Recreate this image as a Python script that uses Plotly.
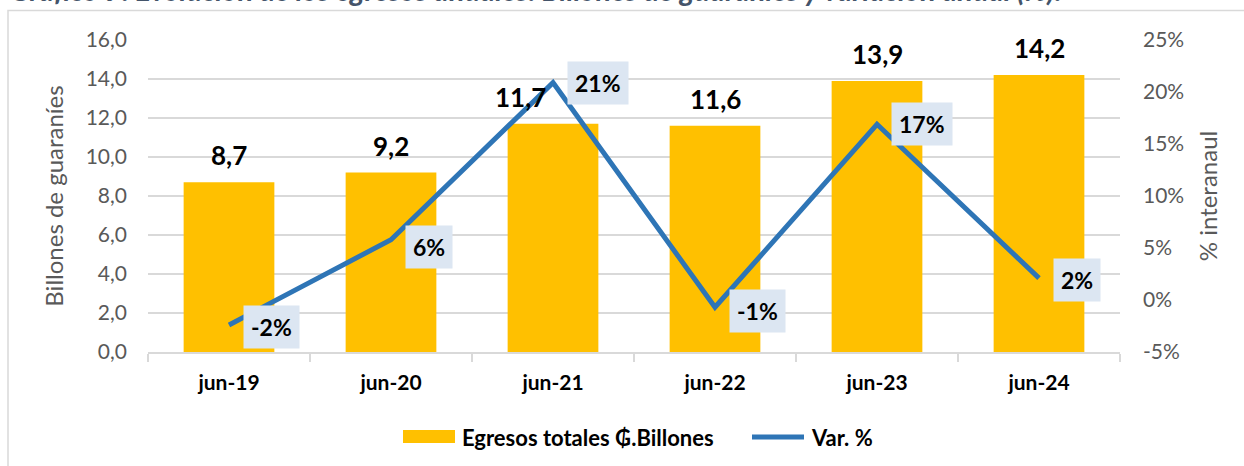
import plotly.graph_objects as go

categories = ["jun-19", "jun-20", "jun-21", "jun-22", "jun-23", "jun-24"]
egresos = [8.7, 9.2, 11.7, 11.6, 13.9, 14.2]
var_pct = [-2.4, 5.8, 20.9, -0.7, 16.9, 2.1]
var_labels = ["-2%", "6%", "21%", "-1%", "17%", "2%"]
egresos_labels = ["8,7", "9,2", "11,7", "11,6", "13,9", "14,2"]
y2_ticks = [-5, 0, 5, 10, 15, 20, 25]
y2_ticktext = ["-5%", "0%", "5%", "10%", "15%", "20%", "25%"]
y_ticks = [0, 2, 4, 6, 8, 10, 12, 14, 16]

# label placement tweaks (pixels)
var_label_yshift = [-2, -7, 0, -4, 0, -2]
egresos_label_xshift = [0, 0, -33, 0, 0, 0]

FONT = "Lato"
L, R, T, B = 148, 124, 40, 114
W, H = 1244, 466
pw, ph = W - L - R, H - T - B

def px_to_paper_x(x):
    return (x - L) / pw

def px_to_paper_y(y):
    return (H - B - y) / ph

fig = go.Figure()
fig.add_trace(go.Bar(
    x=categories, y=egresos, name="Egresos totales ₲.Billones",
    marker=dict(color="#FFC000", line=dict(width=0)), width=0.56,
    yaxis="y", hoverinfo="skip", showlegend=False,
))
fig.add_trace(go.Scatter(
    x=categories, y=var_pct, name="Var. %", mode="lines",
    line=dict(color="#2E75B6", width=5), yaxis="y2", showlegend=False,
))

annotations = []
for c, v, t, xs in zip(categories, egresos, egresos_labels, egresos_label_xshift):
    annotations.append(dict(
        x=c, y=v, xref="x", yref="y", text="<b>%s</b>" % t, showarrow=False,
        yanchor="middle", xanchor="center", yshift=27, xshift=xs,
        font=dict(family=FONT, size=26, color="#000000"),
    ))
for c, v, t, ys in zip(categories, var_pct, var_labels, var_label_yshift):
    annotations.append(dict(
        x=c, y=v, xref="x", yref="y2", text="<b>%s</b>" % t, showarrow=False,
        yanchor="middle", xanchor="left", xshift=14, yshift=ys,
        bgcolor="#DCE6F2", borderpad=7,
        font=dict(family=FONT, size=23, color="#000000"),
    ))
# title (clipped at top as in the reference)
annotations.append(dict(
    x=px_to_paper_x(8), y=px_to_paper_y(9), xref="paper", yref="paper",
    text="<b><i>Gráfico 9: Evolución de los egresos anuales: Billones de guaraníes y variación anual (%).</i></b>",
    showarrow=False, xanchor="left", yanchor="bottom",
    font=dict(family=FONT, size=29, color="#44546A"),
))
# legend texts
legend_y = px_to_paper_y(437)
annotations.append(dict(
    x=px_to_paper_x(460), y=legend_y, xref="paper", yref="paper",
    text="<b>Egresos totales ₲.Billones</b>", showarrow=False,
    xanchor="left", yanchor="middle", font=dict(family=FONT, size=22, color="#000000"),
))
annotations.append(dict(
    x=px_to_paper_x(809), y=legend_y, xref="paper", yref="paper",
    text="<b>Var. %</b>", showarrow=False,
    xanchor="left", yanchor="middle", font=dict(family=FONT, size=22, color="#000000"),
))

shapes = [
    dict(type="rect", xref="paper", yref="paper",
         x0=px_to_paper_x(8), x1=px_to_paper_x(1260), y0=px_to_paper_y(480), y1=px_to_paper_y(10.5),
         line=dict(color="#D9D9D9", width=1.5), fillcolor="rgba(0,0,0,0)", layer="below"),
    dict(type="rect", xref="paper", yref="paper",
         x0=px_to_paper_x(403), x1=px_to_paper_x(455), y0=px_to_paper_y(443), y1=px_to_paper_y(430),
         line=dict(width=0), fillcolor="#FFC000"),
    dict(type="line", xref="paper", yref="paper",
         x0=px_to_paper_x(752), x1=px_to_paper_x(804), y0=legend_y, y1=legend_y,
         line=dict(color="#2E75B6", width=5)),
]

fig.update_layout(
    width=W, height=H,
    margin=dict(l=L, r=R, t=T, b=B, pad=0, autoexpand=False),
    paper_bgcolor="white", plot_bgcolor="white",
    separators=",.",
    showlegend=False,
    xaxis=dict(
        type="category", showgrid=False, showline=True, linecolor="#D9D9D9", linewidth=1.5,
        ticks="outside", tickson="boundaries", ticklen=8, tickcolor="#D9D9D9", tickwidth=1.5,
        tickfont=dict(family=FONT, size=21, color="#000000", weight="bold"),
        ticklabelstandoff=11,
        range=[-0.5, 5.5],
    ),
    yaxis=dict(
        range=[0, 16], tickvals=y_ticks, tickformat=".1f",
        showgrid=True, gridcolor="#D9D9D9", gridwidth=1.5, zeroline=False,
        tickfont=dict(family=FONT, size=21, color="#595959"),
        ticks="", ticklabelstandoff=20,
        title=dict(text="Billones de guaraníes", font=dict(family=FONT, size=24, color="#595959"), standoff=15),
    ),
    yaxis2=dict(
        overlaying="y", side="right", range=[-5, 25], tickvals=y2_ticks, ticktext=y2_ticktext,
        showgrid=False, zeroline=False,
        tickfont=dict(family=FONT, size=21, color="#595959"),
        ticks="", ticklabelstandoff=22,
        title=dict(text="% interanaul", font=dict(family=FONT, size=24, color="#595959"), standoff=16),
    ),
    annotations=annotations,
    shapes=shapes,
)

fig.write_html(
    "out.html",
    config={"displayModeBar": False},
    post_script="document.body.style.margin='0';document.body.style.overflow='hidden';",
)
